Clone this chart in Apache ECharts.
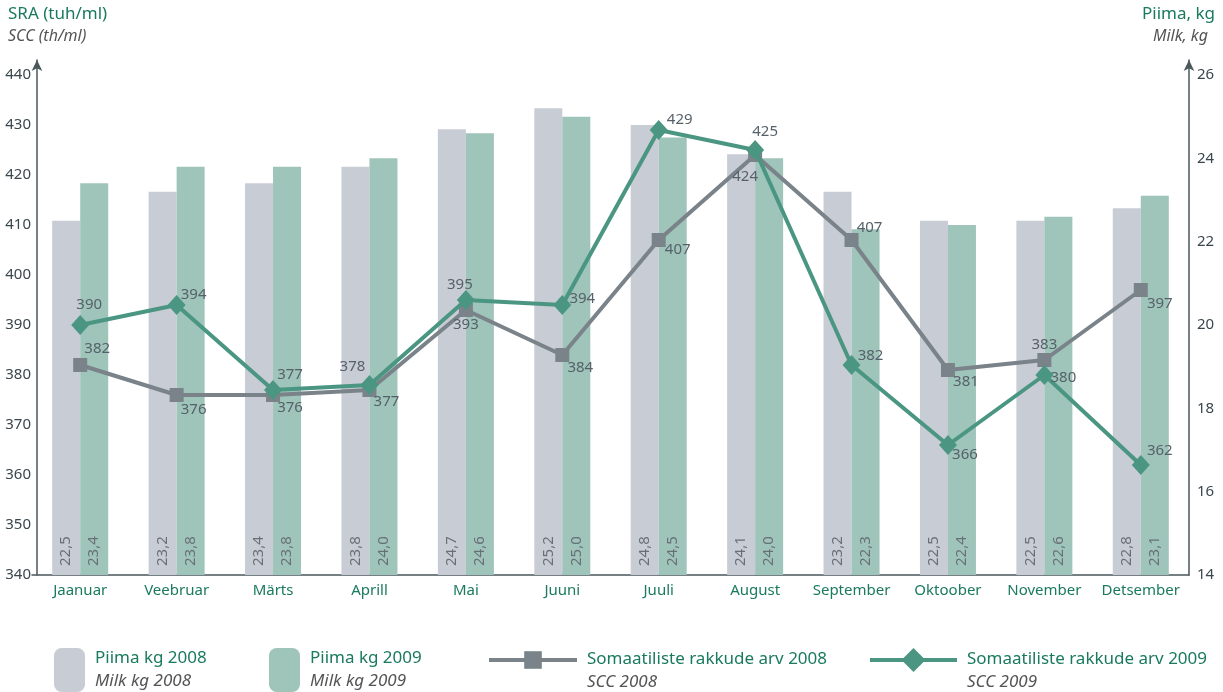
<!DOCTYPE html>
<html>
<head>
<meta charset="utf-8">
<script src="https://cdn.jsdelivr.net/npm/echarts@6/dist/echarts.min.js"></script>
<style>
  html, body { margin: 0; padding: 0; background: #fff; }
  #chart { width: 1223px; height: 692px; }
</style>
</head>
<body>
<div id="chart"></div>
<script>
const months = ["Jaanuar", "Veebruar", "Märts", "Aprill", "Mai", "Juuni", "Juuli", "August", "September", "Oktoober", "November", "Detsember"];
const milk2008 = [22.5, 23.2, 23.4, 23.8, 24.7, 25.2, 24.8, 24.1, 23.2, 22.5, 22.5, 22.8];
const milk2009 = [23.4, 23.8, 23.8, 24.0, 24.6, 25.0, 24.5, 24.0, 22.3, 22.4, 22.6, 23.1];
const scc2008 = [382, 376, 376, 377, 393, 384, 407, 424, 407, 381, 383, 397];
const scc2009 = [390, 394, 377, 378, 395, 394, 429, 425, 382, 366, 380, 362];

const green = "#1a7a5e";
const font = "Noto Sans";

// label offsets around the markers (dx, dy)
const off2008 = [[17,-16],[17,15],[17,13],[17,12],[0,15],[18,13],[19,10],[-10,22],[18,-12],[18,12],[0,-15],[19,14]];
const off2009 = [[9,-20],[17,-10],[17,-15],[-17,-18],[-6,-15],[20,-6],[21,-10],[10,-18],[19,-9],[17,10],[19,3],[19,-14]];

const fmt = (v) => v.toFixed(1).replace(".", ",");

const lineData = (vals, offs) => vals.map((v, i) => ({
  value: v,
  label: { offset: offs[i] }
}));

const barLabel = {
  show: true,
  position: "insideBottom",
  rotate: 90,
  align: "left",
  verticalAlign: "middle",
  distance: 9,
  color: "#687076",
  fontSize: 15,
  fontFamily: font,
  formatter: (p) => fmt(p.value)
};

const lineLabel = {
  show: true,
  position: "inside",
  color: "#56616a",
  fontSize: 15,
  fontFamily: font
};

const legendSub = {
  "Piima kg 2008": "Milk kg 2008",
  "Piima kg 2009": "Milk kg 2009",
  "Somaatiliste rakkude arv 2008": "SCC 2008",
  "Somaatiliste rakkude arv 2009": "SCC 2009"
};

const legendText = {
  fontFamily: font,
  padding: [0, 0, 0, 5],
  rich: {
    a: { fontSize: 17, color: green, fontFamily: font, lineHeight: 23 },
    b: { fontSize: 17, color: "#555", fontStyle: "italic", fontFamily: font, lineHeight: 23 },
    c: { fontSize: 10, lineHeight: 22 }
  }
};
// line legends get an empty first row so the icon sits beside the upper text line
const legendFmt = (n) => "{a|" + n + "}\n{b|" + legendSub[n] + "}";
const legendFmtLine = (n) => "{c| }\n{a|" + n + "}\n{b|" + legendSub[n] + "}";

const mkLegend = (name, left, top, w, h, isLine) => ({
  data: [name],
  left: left,
  top: top,
  itemWidth: w,
  itemHeight: h,
  itemGap: 0,
  padding: 0,
  selectedMode: false,
  lineStyle: { width: 4 },
  textStyle: legendText,
  formatter: isLine ? legendFmtLine : legendFmt
});

const chart = echarts.init(document.getElementById("chart"));
chart.setOption({
  animation: false,
  textStyle: { fontFamily: font },
  grid: { left: 32, right: 34, top: 60, bottom: 117 },
  graphic: [
    { type: "text", left: 8, top: 6, style: { text: "SRA (tuh/ml)", fill: green, font: "17px 'Noto Sans'" } },
    { type: "text", left: 8, top: 28, style: { text: "SCC (th/ml)", fill: "#555", font: "italic 16px 'Noto Sans'" } },
    { type: "text", right: 8, top: 6, style: { text: "Piima, kg", fill: green, font: "17px 'Noto Sans'" } },
    { type: "text", right: 15, top: 28, style: { text: "Milk, kg", fill: "#555", font: "italic 16px 'Noto Sans'" } }
  ],
  legend: [
    mkLegend("Piima kg 2008", 54, 648, 31, 44, false),
    mkLegend("Piima kg 2009", 269, 648, 31, 44, false),
    mkLegend("Somaatiliste rakkude arv 2008", 487, 632, 88, 22, true),
    mkLegend("Somaatiliste rakkude arv 2009", 868, 632, 87, 30, true)
  ],
  xAxis: {
    type: "category",
    data: months,
    axisLine: { lineStyle: { color: "#4a575c", width: 1.5 } },
    axisTick: { show: false },
    axisLabel: { color: green, fontSize: 15, fontFamily: font, margin: 8, interval: 0 }
  },
  yAxis: [
    {
      type: "value",
      min: 340,
      max: 443,
      interval: 10,
      offset: -5,
      splitLine: { show: false },
      axisTick: { show: false },
      axisLine: { show: true, symbol: ["none", "arrow"], symbolSize: [8, 11], lineStyle: { color: "#4a575c", width: 1.5 } },
      axisLabel: { color: "#3a474d", fontSize: 15, fontFamily: font, showMaxLabel: false, margin: 6 }
    },
    {
      type: "value",
      min: 14,
      max: 26.36,
      interval: 2,
      splitLine: { show: false },
      axisTick: { show: false },
      axisLine: { show: true, symbol: ["none", "arrow"], symbolSize: [8, 11], lineStyle: { color: "#4a575c", width: 1.5 } },
      axisLabel: { color: "#3a474d", fontSize: 15, fontFamily: font, showMaxLabel: false, margin: 8 }
    }
  ],
  series: [
    {
      name: "Piima kg 2008",
      type: "bar",
      yAxisIndex: 1,
      data: milk2008,
      barWidth: 28,
      barGap: "0%",
      itemStyle: { color: "#c8ccd4" },
      label: barLabel
    },
    {
      name: "Piima kg 2009",
      type: "bar",
      yAxisIndex: 1,
      data: milk2009,
      barWidth: 28,
      barGap: "0%",
      itemStyle: { color: "#9fc4ba" },
      label: barLabel
    },
    {
      name: "Somaatiliste rakkude arv 2008",
      type: "line",
      yAxisIndex: 0,
      data: lineData(scc2008, off2008),
      symbol: "rect",
      symbolSize: 14,
      z: 5,
      lineStyle: { color: "#7a8389", width: 4 },
      itemStyle: { color: "#7a8389" },
      label: lineLabel
    },
    {
      name: "Somaatiliste rakkude arv 2009",
      type: "line",
      yAxisIndex: 0,
      data: lineData(scc2009, off2009),
      symbol: "diamond",
      symbolSize: [18, 20],
      z: 6,
      lineStyle: { color: "#4a9682", width: 4 },
      itemStyle: { color: "#4a9682" },
      label: lineLabel
    }
  ]
});
</script>
</body>
</html>
